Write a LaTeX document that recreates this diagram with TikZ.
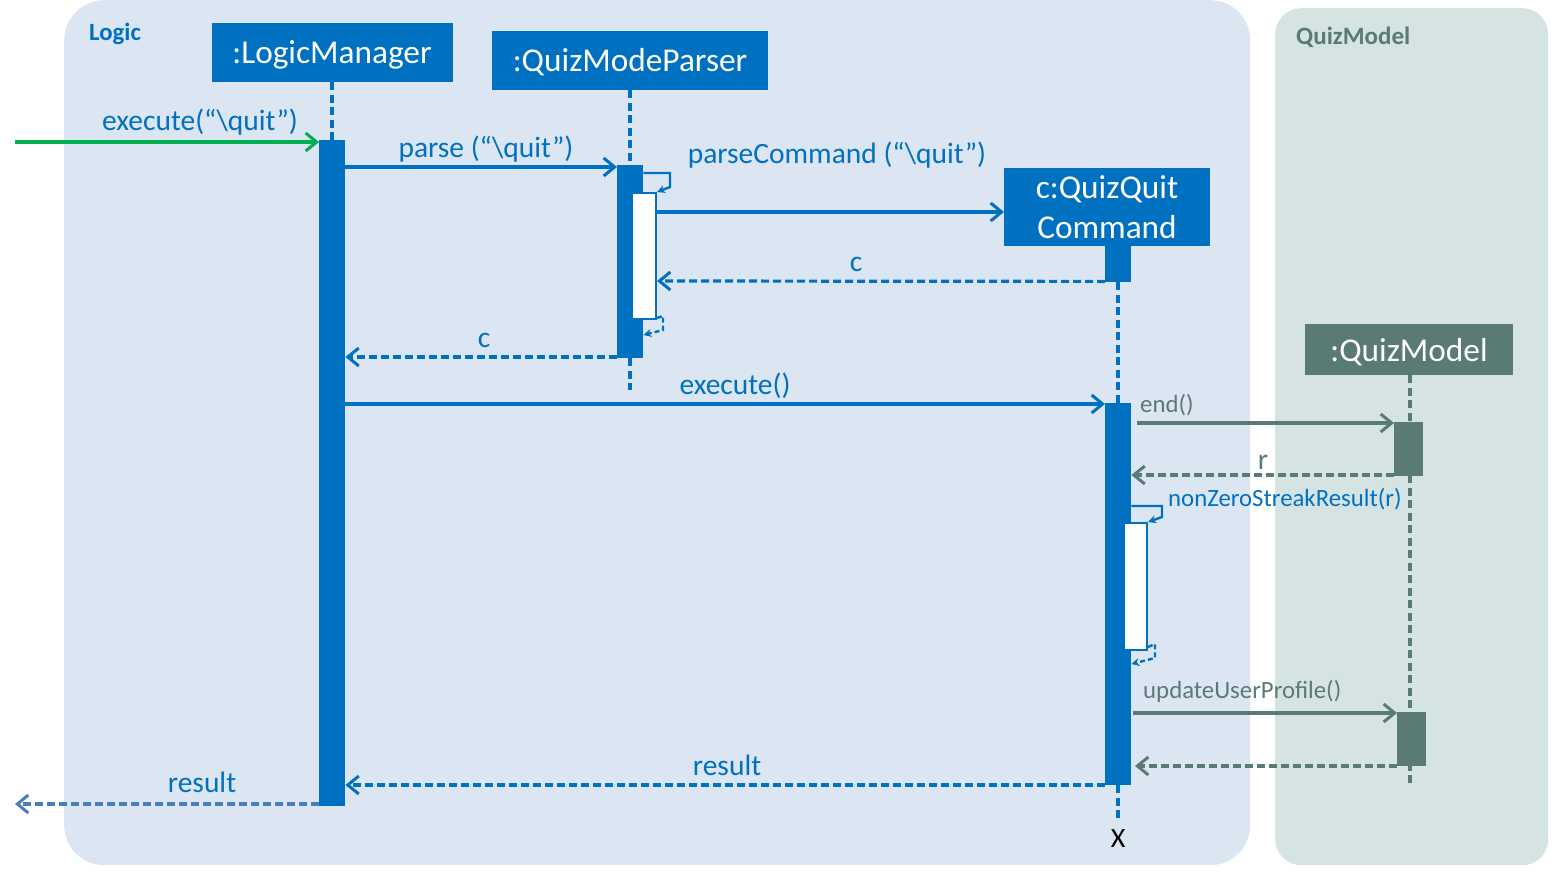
\documentclass[tikz,border=0pt]{standalone}
\usepackage{fontspec}
\setmainfont{Carlito}
\usetikzlibrary{arrows.meta}
\definecolor{mblue}{HTML}{0070C0}
\definecolor{mgrey}{HTML}{5A7A76}
\definecolor{logicbg}{HTML}{DCE6F2}
\definecolor{modelbg}{HTML}{D5E4E3}
\definecolor{mgreen}{HTML}{00B050}
\definecolor{lblue}{HTML}{4A7EBB}
\tikzset{
  obj/.style={fill=#1, text=white, inner sep=0pt, align=center},
  ttl/.style={text=white, font=\fontsize{33.3}{38}\selectfont, anchor=base, inner sep=0pt},
  actbar/.style={fill=#1, draw=none, inner sep=0pt, anchor=north west},
  innerbar/.style={fill=white, draw=mblue, line width=2pt, inner sep=0pt, anchor=north west},
  life/.style={draw=#1, line width=3.2pt, dash pattern=on 8pt off 4.5pt},
  msg/.style={draw=#1, line width=3.1pt, -{Straight Barb[length=11pt,width=18pt,line width=3pt]}},
  ret/.style={draw=#1, line width=3.2pt, dash pattern=on 8pt off 4pt, -{Straight Barb[length=11pt,width=18pt,line width=3pt]}},
  selfc/.style={draw=mblue, line width=2.4pt, -{Stealth[length=8pt,width=8pt]}},
  selfr/.style={draw=mblue, line width=2.4pt, dash pattern=on 5pt off 3pt, -{Stealth[length=8pt,width=8pt]}},
  lbl/.style={text=#1, font=\fontsize{29.5}{34}\selectfont, inner sep=0pt, anchor=base},
  slbl/.style={text=#1, font=\fontsize{24.8}{28}\selectfont, inner sep=0pt, anchor=base west},
}
\begin{document}
\begin{tikzpicture}[x=1pt,y=-1pt]
\useasboundingbox (0,0) rectangle (1562,881);
% panels
\node[fill=logicbg, rounded corners=40pt, anchor=north west, minimum width=1186pt, minimum height=865pt, inner sep=0pt] (logicpanel) at (64,0) {};
\node[fill=modelbg, rounded corners=26pt, anchor=north west, minimum width=273pt, minimum height=857pt, inner sep=0pt] (modelpanel) at (1275,8) {};
\node[text=mblue, font=\bfseries\fontsize{24.8}{28}\selectfont, anchor=base west, inner sep=0pt] (logiclbl) at (89,40) {Logic};
\node[text=mgrey, font=\bfseries\fontsize{25}{28}\selectfont, anchor=base west, inner sep=0pt] (modellbl) at (1296,44) {QuizModel};

% object boxes
\node[obj=mblue, anchor=north west, minimum width=241pt, minimum height=59pt] (lm) at (212,23) {};
\node[ttl] (lmtxt) at (332,63) {:LogicManager};
\node[obj=mblue, anchor=north west, minimum width=276pt, minimum height=59pt] (qp) at (492,31) {};
\node[ttl] (qptxt) at (630,71) {:QuizModeParser};
\node[obj=mblue, anchor=north west, minimum width=206pt, minimum height=78pt] (qc) at (1004,168) {};
\node[ttl] (qctxt1) at (1107,198) {c:QuizQuit};
\node[ttl] (qctxt2) at (1107,238) {Command};
\node[obj=mgrey, anchor=north west, minimum width=208pt, minimum height=51pt] (qm) at (1305,324) {};
\node[ttl] (qmtxt) at (1409,361) {:QuizModel};

% lifelines
\coordinate (lmL1) at (332,82);
\coordinate (lmL2) at (332,140);
\draw[life=mblue] (lmL1) -- (lmL2);
\coordinate (qpL1) at (630,90);
\coordinate (qpL2) at (630,165);
\coordinate (qpL3) at (630,358);
\coordinate (qpL4) at (630,390);
\draw[life=mblue] (qpL1) -- (qpL2);
\draw[life=mblue] (qpL3) -- (qpL4);
\coordinate (qcL1) at (1118,282);
\coordinate (qcL2) at (1118,403);
\coordinate (qcL3) at (1118,785);
\coordinate (qcL4) at (1118,822);
\draw[life=mblue] (qcL1) -- (qcL2);
\draw[life=mblue] (qcL3) -- (qcL4);
\coordinate (qmL1) at (1410,375);
\coordinate (qmL2) at (1410,785);
\draw[life=mgrey] (qmL1) -- (qmL2);
\node[font=\fontsize{28}{32}\selectfont, anchor=base, inner sep=0pt] (xmark) at (1118,847) {X};

% activation bars
\node[actbar=mblue, minimum width=26pt, minimum height=666pt] (lmA) at (319,140) {};
\node[actbar=mblue, minimum width=26pt, minimum height=193pt] (qpA) at (617,165) {};
\node[innerbar, minimum width=24pt, minimum height=126pt] (qpB) at (631,192) {};
\node[actbar=mblue, minimum width=26pt, minimum height=36pt] (qcA0) at (1105,246) {};
\node[actbar=mblue, minimum width=26pt, minimum height=382pt] (qcA) at (1105,403) {};
\node[innerbar, minimum width=23pt, minimum height=127pt] (qcB) at (1123,522) {};
\node[actbar=mgrey, minimum width=29pt, minimum height=54pt] (qmA) at (1394,422) {};
\node[actbar=mgrey, minimum width=29pt, minimum height=54pt] (qmB) at (1397,712) {};

% messages
\coordinate (start) at (15,142);
\draw[msg=mgreen] (start) -- (lmA.west |- start);
\node[lbl=mblue] (l1) at (200,130) {execute(“\textbackslash quit”)};

\draw[msg=mblue] (lmA.east |- 0,167) -- (qpA.west |- 0,167);
\node[lbl=mblue] (l2) at (486,157) {parse (“\textbackslash quit”)};

\coordinate (s1a) at (670,173);
\coordinate (s1b) at (670,187);
\draw[selfc] (qpA.east |- s1a) -- (s1a) -- (s1b) -- (qpB.north east);
\node[lbl=mblue] (l3) at (837,163) {parseCommand (“\textbackslash quit”)};

\draw[msg=mblue] (qpB.east |- 0,212) -- (qc.west |- 0,212);

\draw[ret=mblue] (qcA0.south west) ++(0,-1) -- (qpB.east |- 0,281);
\node[lbl=mblue] (l4) at (856,271) {c};

\coordinate (s2a) at (663,316);
\coordinate (s2b) at (663,330);
\draw[selfr] (qpB.south east) ++(0,-2) -- (s2a) -- (s2b) -- (qpA.east |- 0,335);

\draw[ret=mblue] (qpA.west |- 0,357) -- (lmA.east |- 0,357);
\node[lbl=mblue] (l5) at (484,347) {c};

\draw[msg=mblue] (lmA.east |- 0,404) -- (qcA.west |- 0,404);
\node[lbl=mblue] (l6) at (735,394) {execute()};

\coordinate (e1) at (1137,423);
\draw[msg=mgrey] (e1) -- (qmA.west |- e1);
\node[slbl=mgrey] (l7) at (1140,412) {end()};

\draw[ret=mgrey] (qmA.west |- 0,475) -- (qcA.east |- 0,475);
\node[lbl=mgrey] (l8) at (1263,469) {r};

\coordinate (s3a) at (1162,506);
\coordinate (s3b) at (1162,517);
\draw[selfc] (qcA.east |- s3a) -- (s3a) -- (s3b) -- (qcB.north east);
\node[slbl=mblue] (l9) at (1168,506) {nonZeroStreakResult(r)};

\coordinate (s4a) at (1155,644);
\coordinate (s4b) at (1155,658);
\draw[selfr] (qcB.south east) ++(0,-4) -- (s4a) -- (s4b) -- (qcA.east |- 0,664);

\coordinate (u1) at (1133,713);
\draw[msg=mgrey] (u1) -- (qmB.west |- u1);
\node[slbl=mgrey] (l10) at (1143,698) {updateUserProfile()};

\draw[ret=mgrey] (qmB.west |- 0,766) -- (1135,766);

\draw[ret=mblue] (qcA.west |- 0,785) -- (lmA.east |- 0,785);
\node[lbl=mblue] (l11) at (727,775) {result};

\coordinate (endout) at (15,804);
\draw[ret=lblue] (lmA.west |- endout) -- (endout);
\node[lbl=mblue] (l12) at (202,792) {result};
\end{tikzpicture}
\end{document}
